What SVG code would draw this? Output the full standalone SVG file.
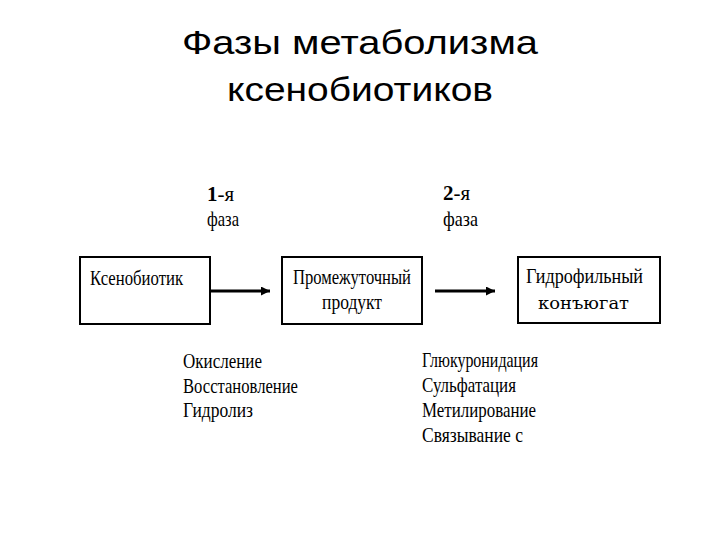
<svg xmlns="http://www.w3.org/2000/svg" width="720" height="540" viewBox="0 0 720 540">
<style>
.title{font-family:"Liberation Sans",Arial,sans-serif;font-size:34px;fill:#000;text-anchor:middle}
.lbl{font-family:"Liberation Serif","Times New Roman",serif;font-size:21px;fill:#000}
.alt{font-family:"DejaVu Serif Condensed","DejaVu Serif",serif;font-size:17px}
.box{fill:#fff;stroke:#000;stroke-width:2}
.conn{stroke:#000;stroke-width:3;fill:none}
</style>
<defs>
<marker id="ah" markerWidth="3" markerHeight="3" refX="3" refY="1.5" orient="auto" markerUnits="strokeWidth">
<path d="M0,0 L3,1.5 L0,3 z" fill="#000"/>
</marker>
</defs>
<rect width="720" height="540" fill="#fff"/>
<g id="title">
<text class="title" x="360" y="54" textLength="356" lengthAdjust="spacingAndGlyphs">Фазы метаболизма</text>
<text class="title" x="360" y="101" textLength="266" lengthAdjust="spacingAndGlyphs">ксенобиотиков</text>
</g>
<g id="phase1">
<text class="lbl" x="207" y="201"><tspan font-weight="bold">1</tspan>-я</text>
<text class="lbl" x="207" y="226" textLength="32" lengthAdjust="spacingAndGlyphs">фаза</text>
</g>
<g id="phase2">
<text class="lbl" x="443" y="200"><tspan font-weight="bold">2</tspan>-я</text>
<text class="lbl" x="443" y="226" textLength="35" lengthAdjust="spacingAndGlyphs">фаза</text>
</g>
<g id="node-xenobiotic">
<rect class="box" x="80" y="257" width="130" height="67"/>
<text class="lbl" x="90" y="285" textLength="93" lengthAdjust="spacingAndGlyphs">Ксенобиотик</text>
</g>
<g id="node-intermediate">
<rect class="box" x="282" y="257" width="140" height="67"/>
<text class="lbl" x="352" y="284" text-anchor="middle" textLength="118" lengthAdjust="spacingAndGlyphs">Промежуточный</text>
<text class="lbl" x="352" y="309" text-anchor="middle" textLength="60" lengthAdjust="spacingAndGlyphs">продукт</text>
</g>
<g id="node-conjugate">
<rect class="box" x="518" y="257" width="142" height="66"/>
<text class="lbl" x="584.5" y="283" text-anchor="middle" textLength="117" lengthAdjust="spacingAndGlyphs">Гидрофильный</text>
<text class="lbl alt" x="538" y="309" textLength="91" lengthAdjust="spacingAndGlyphs">конъюгат</text>
</g>
<g id="connectors">
<line class="conn" x1="210" y1="291" x2="270" y2="291" marker-end="url(#ah)"/>
<line class="conn" x1="435" y1="291" x2="495" y2="291" marker-end="url(#ah)"/>
</g>
<g id="phase1-reactions">
<text class="lbl" x="183" y="368" textLength="79" lengthAdjust="spacingAndGlyphs">Окисление</text>
<text class="lbl" x="183" y="393" textLength="115" lengthAdjust="spacingAndGlyphs">Восстановление</text>
<text class="lbl" x="183" y="417" textLength="70" lengthAdjust="spacingAndGlyphs">Гидролиз</text>
</g>
<g id="phase2-reactions">
<text class="lbl" x="422" y="367" textLength="116" lengthAdjust="spacingAndGlyphs">Глюкуронидация</text>
<text class="lbl" x="422" y="392" textLength="94" lengthAdjust="spacingAndGlyphs">Сульфатация</text>
<text class="lbl" x="422" y="417" textLength="114" lengthAdjust="spacingAndGlyphs">Метилирование</text>
<text class="lbl" x="422" y="442" textLength="101" lengthAdjust="spacingAndGlyphs">Связывание с</text>
</g>
</svg>
